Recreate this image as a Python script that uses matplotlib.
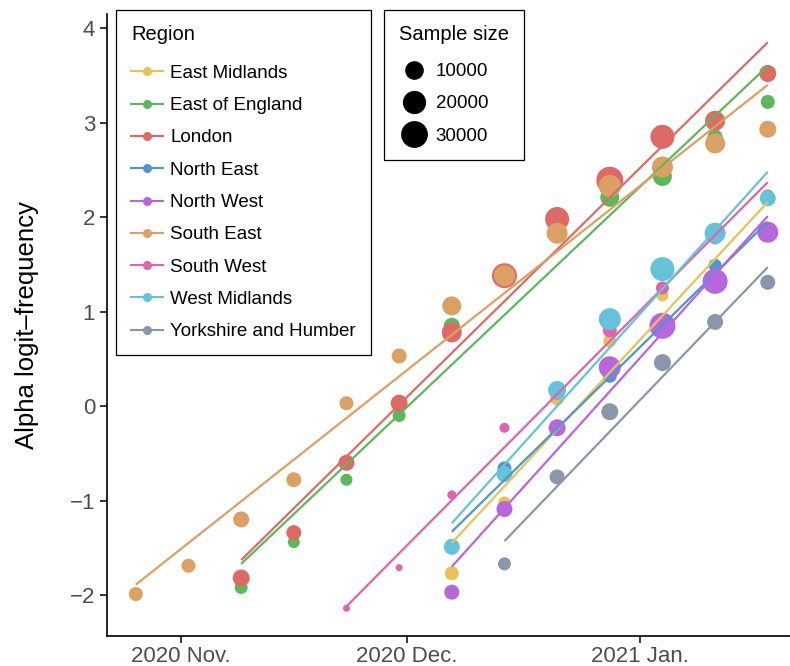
import numpy as np
import pandas as pd
import matplotlib
matplotlib.use("Agg")
import matplotlib.pyplot as plt
import matplotlib.dates as mdates
from matplotlib.lines import Line2D

plt.rcParams['font.family'] = ['Liberation Sans', 'DejaVu Sans']

# ---------------- data ----------------
weeks = pd.date_range("2020-10-26", periods=13, freq="7D")

regions = ['East Midlands', 'East of England', 'London', 'North East', 'North West',
           'South East', 'South West', 'West Midlands', 'Yorkshire and Humber']
colors = ['#E8C257', '#5CB85C', '#DE6A66', '#4B97D0', '#B866DB',
          '#DBA064', '#DE64AE', '#64C3D9', '#8A97AB']

# first week index with data for each region
first_week = [6, 2, 2, 6, 6, 0, 4, 6, 7]

# observed logit-frequency per week (starting at first_week)
logit = [
    [-1.77, -1.02, 0.08, 0.69, 1.17, 1.48, 2.18],
    [-1.92, -1.44, -0.78, -0.10, 0.85, 1.33, 1.88, 2.21, 2.43, 2.85, 3.22],
    [-1.82, -1.34, -0.60, 0.03, 0.78, 1.38, 1.98, 2.39, 2.85, 3.02, 3.52],
    [-1.47, -0.66, -0.23, 0.32, 0.86, 1.49, 1.86],
    [-1.97, -1.09, -0.23, 0.41, 0.85, 1.32, 1.84],
    [-1.99, -1.69, -1.20, -0.78, 0.03, 0.53, 1.06, 1.38, 1.83, 2.33, 2.53, 2.78, 2.93],
    [-2.14, -1.71, -0.94, -0.23, 0.13, 0.80, 1.25, 1.78, 2.23],
    [-1.49, -0.72, 0.17, 0.92, 1.45, 1.83, 2.20],
    [-1.67, -0.75, -0.06, 0.46, 0.89, 1.31],
]

# sample size per week
samples = [
    [5100, 2870, 5100, 3910, 2870, 2870, 2870],
    [3910, 2870, 2870, 3910, 7970, 5100, 7970, 13470, 13470, 6460, 5100],
    [9650, 6460, 7970, 9650, 15630, 28780, 25830, 35160, 25830, 15630, 9650],
    [2870, 5100, 3910, 5100, 5100, 3910, 3910],
    [6460, 7970, 9650, 20410, 31890, 28780, 17940],
    [5100, 5100, 7970, 6460, 5100, 6460, 13470, 17940, 17940, 20410, 17940, 15630, 9650],
    [80, 80, 720, 1280, 2870, 5100, 3910, 3910, 2870],
    [7970, 7970, 11480, 20410, 25830, 17940, 7970],
    [3910, 6460, 9650, 9650, 7970, 6460],
]

# fitted line: value at first week and at last week (2021-01-18)
fit_start = [-1.45, -1.67, -1.63, -1.33, -1.70, -1.89, -2.12, -1.24, -1.43]
fit_end = [2.16, 3.60, 3.85, 1.95, 2.01, 3.40, 2.37, 2.48, 1.47]

size_breaks = [10000, 20000, 30000]


def diam_px(n):
    return 6 + 0.112 * np.sqrt(np.asarray(n, dtype=float))


# ---------------- plot ----------------
fig = plt.figure(figsize=(7.9, 6.66), dpi=100)
ax = fig.add_axes([107 / 790, 30 / 666, 683 / 790, 622 / 666])

for i, reg in enumerate(regions):
    d = weeks[first_week[i]:]
    x = mdates.date2num(d)
    s = (diam_px(samples[i]) * 0.72) ** 2
    ax.scatter(x, logit[i], s=s, color=colors[i], linewidths=0, zorder=2 + i * 0.01)

for i, reg in enumerate(regions):
    x0 = mdates.date2num(weeks[first_week[i]])
    x1 = mdates.date2num(weeks[-1])
    ax.plot([x0, x1], [fit_start[i], fit_end[i]], color=colors[i], lw=1.6,
            zorder=3 + i * 0.01, solid_capstyle='butt')

ax.set_xlim(mdates.date2num(pd.Timestamp("2020-10-22 04:00")),
            mdates.date2num(pd.Timestamp("2021-01-20 23:00")))
ax.set_ylim(-2.434, 4.15)

ax.set_xticks(mdates.date2num(pd.to_datetime(["2020-11-01", "2020-12-01", "2021-01-01"])))
ax.set_xticklabels(["2020 Nov.", "2020 Dec.", "2021 Jan."])
ax.set_yticks([-2, -1, 0, 1, 2, 3, 4])
ax.set_yticklabels(["\u22122", "\u22121", "0", "1", "2", "3", "4"])
ax.tick_params(labelsize=16, labelcolor='#4D4D4D', length=5, width=1.1, color='black')
ax.tick_params(axis='x', pad=2)

for side in ['top', 'right']:
    ax.spines[side].set_visible(False)
for side in ['left', 'bottom']:
    ax.spines[side].set_linewidth(1.2)

ax.set_ylabel("Alpha logit\u2013frequency", fontsize=18.5, labelpad=22)

# Region legend
handles = [Line2D([], [], color=c, marker='o', markersize=5.5, lw=1.5) for c in colors]
leg1 = ax.legend(handles, regions, title="Region", loc='upper left',
                 bbox_to_anchor=(116 / 790, 1 - 10 / 666), bbox_transform=fig.transFigure,
                 fontsize=13.5, title_fontsize=14.5, frameon=True, fancybox=False,
                 edgecolor='black', framealpha=1, borderpad=0.8, labelspacing=0.81,
                 handlelength=1.7, handletextpad=0.4, alignment='left', borderaxespad=0)
leg1.get_frame().set_linewidth(0.9)
leg1._legend_box.sep += 4
ax.add_artist(leg1)

# Sample size legend
size_handles = [Line2D([], [], color='black', marker='o', lw=0,
                       markersize=diam_px(n) * 0.72) for n in size_breaks]
leg2 = ax.legend(size_handles, [str(n) for n in size_breaks], title="Sample size",
                 loc='upper left', bbox_to_anchor=(384 / 790, 1 - 10 / 666),
                 bbox_transform=fig.transFigure, fontsize=13.5, title_fontsize=14.5,
                 frameon=True, fancybox=False, edgecolor='black', framealpha=1,
                 borderpad=0.8, labelspacing=0.8, handlelength=1.6, handletextpad=0.35,
                 alignment='left', borderaxespad=0)
leg2.get_frame().set_linewidth(0.9)
leg2._legend_box.sep += 3

fig.savefig("out.png", dpi=100)
